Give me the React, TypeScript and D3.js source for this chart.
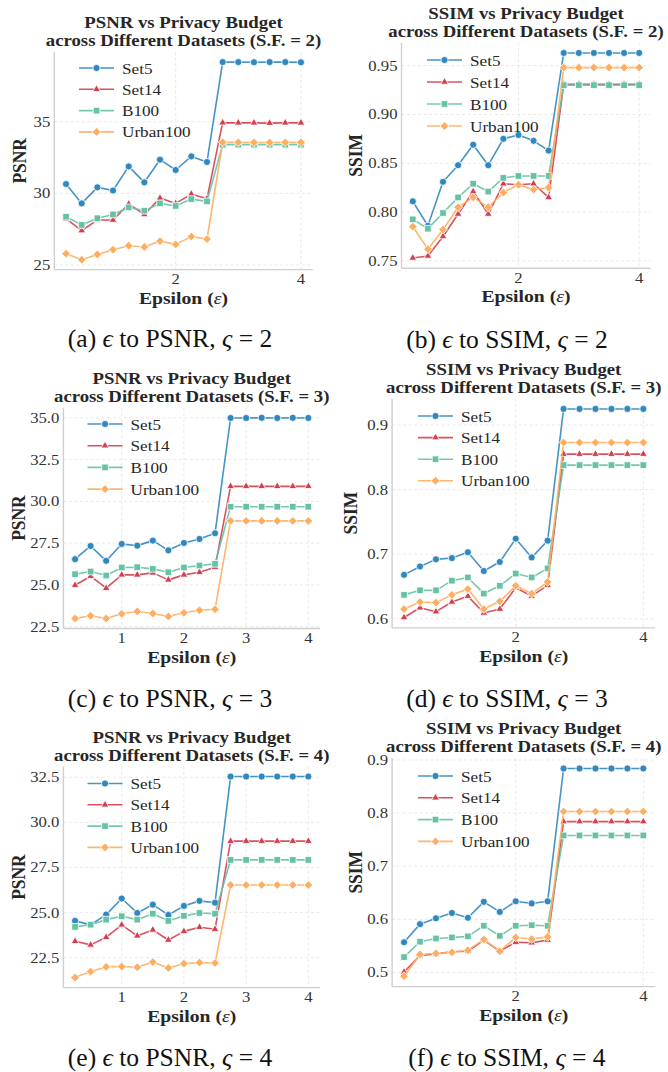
import React from 'react';
import * as d3 from 'd3';

// Privacy budget values shared by every panel
const EPSILON = [0.25, 0.5, 0.75, 1.0, 1.25, 1.5, 1.75, 2.0, 2.25, 2.5, 2.75, 3.0, 3.25, 3.5, 3.75, 4.0];
const DATASETS = ['Set5', 'Set14', 'B100', 'Urban100'];

// Scale factor 2
const PSNR_SF2_SET5 = [30.65, 29.3, 30.42, 30.2, 31.88, 30.77, 32.35, 31.63, 32.58, 32.19, 39.16, 39.16, 39.15, 39.16, 39.16, 39.14];
const PSNR_SF2_SET14 = [28.23, 27.4, 28.14, 28.14, 29.26, 28.53, 29.67, 29.3, 29.95, 29.63, 34.93, 34.92, 34.92, 34.9, 34.92, 34.92];
const PSNR_SF2_B100 = [28.37, 27.8, 28.26, 28.53, 29.02, 28.79, 29.3, 29.12, 29.6, 29.44, 33.4, 33.4, 33.4, 33.4, 33.4, 33.4];
const PSNR_SF2_URBAN = [25.79, 25.37, 25.74, 26.07, 26.35, 26.26, 26.67, 26.44, 26.98, 26.81, 33.56, 33.56, 33.55, 33.55, 33.56, 33.55];

const SSIM_SF2_SET5 = [0.811, 0.786, 0.831, 0.848, 0.869, 0.848, 0.875, 0.879, 0.873, 0.863, 0.963, 0.963, 0.963, 0.963, 0.963, 0.963];
const SSIM_SF2_SET14 = [0.753, 0.755, 0.775, 0.798, 0.821, 0.798, 0.829, 0.828, 0.829, 0.815, 0.931, 0.931, 0.931, 0.931, 0.931, 0.931];
const SSIM_SF2_B100 = [0.7925, 0.783, 0.799, 0.815, 0.829, 0.821, 0.835, 0.837, 0.837, 0.837, 0.93, 0.93, 0.93, 0.93, 0.93, 0.93];
const SSIM_SF2_URBAN = [0.785, 0.762, 0.782, 0.805, 0.815, 0.805, 0.82, 0.828, 0.823, 0.825, 0.948, 0.948, 0.948, 0.948, 0.948, 0.948];

// Scale factor 3
const PSNR_SF3_SET5 = [26.54, 27.33, 26.44, 27.45, 27.35, 27.65, 27.07, 27.51, 27.75, 28.09, 34.99, 34.99, 35.0, 34.99, 35.0, 34.99];
const PSNR_SF3_SET14 = [24.98, 25.52, 24.8, 25.6, 25.6, 25.72, 25.3, 25.6, 25.76, 26.06, 30.9, 30.9, 30.9, 30.9, 30.9, 30.9];
const PSNR_SF3_B100 = [25.64, 25.8, 25.56, 26.04, 26.06, 25.96, 25.76, 26.04, 26.16, 26.26, 29.68, 29.68, 29.68, 29.68, 29.68, 29.68];
const PSNR_SF3_URBAN = [22.99, 23.15, 22.99, 23.27, 23.41, 23.29, 23.11, 23.33, 23.48, 23.54, 28.83, 28.83, 28.83, 28.83, 28.83, 28.83];

const SSIM_SF3_SET5 = [0.668, 0.681, 0.692, 0.694, 0.703, 0.674, 0.688, 0.724, 0.695, 0.721, 0.925, 0.925, 0.925, 0.925, 0.925, 0.925];
const SSIM_SF3_SET14 = [0.602, 0.617, 0.611, 0.626, 0.635, 0.609, 0.615, 0.648, 0.635, 0.652, 0.855, 0.855, 0.855, 0.855, 0.855, 0.855];
const SSIM_SF3_B100 = [0.637, 0.644, 0.644, 0.659, 0.664, 0.639, 0.651, 0.67, 0.664, 0.678, 0.838, 0.838, 0.838, 0.838, 0.838, 0.838];
const SSIM_SF3_URBAN = [0.615, 0.626, 0.625, 0.637, 0.646, 0.615, 0.627, 0.651, 0.639, 0.657, 0.873, 0.873, 0.873, 0.873, 0.873, 0.873];

// Scale factor 4
const PSNR_SF4_SET5 = [24.54, 24.32, 24.89, 25.78, 24.98, 25.44, 24.87, 25.37, 25.65, 25.55, 32.54, 32.54, 32.54, 32.54, 32.54, 32.54];
const PSNR_SF4_SET14 = [23.41, 23.21, 23.63, 24.32, 23.71, 24.04, 23.48, 23.96, 24.19, 24.08, 28.96, 28.96, 28.96, 28.96, 28.96, 28.96];
const PSNR_SF4_B100 = [24.21, 24.33, 24.61, 24.8, 24.61, 24.94, 24.54, 24.82, 24.98, 24.94, 27.92, 27.92, 27.92, 27.92, 27.92, 27.92];
const PSNR_SF4_URBAN = [21.4, 21.73, 21.99, 22.01, 21.97, 22.26, 21.93, 22.17, 22.23, 22.21, 26.53, 26.53, 26.53, 26.53, 26.53, 26.53];

const SSIM_SF4_SET5 = [0.557, 0.591, 0.602, 0.612, 0.603, 0.633, 0.614, 0.634, 0.63, 0.634, 0.884, 0.884, 0.884, 0.884, 0.884, 0.884];
const SSIM_SF4_SET14 = [0.501, 0.532, 0.535, 0.539, 0.54, 0.561, 0.54, 0.557, 0.556, 0.561, 0.784, 0.784, 0.784, 0.784, 0.784, 0.784];
const SSIM_SF4_B100 = [0.529, 0.558, 0.564, 0.566, 0.568, 0.588, 0.569, 0.588, 0.589, 0.588, 0.758, 0.758, 0.758, 0.758, 0.758, 0.758];
const SSIM_SF4_URBAN = [0.493, 0.534, 0.536, 0.538, 0.542, 0.562, 0.54, 0.566, 0.563, 0.567, 0.803, 0.803, 0.803, 0.803, 0.803, 0.803];

// Tick values per panel
const X_TICKS_SPARSE = [2, 4];
const X_TICKS_DENSE = [1, 2, 3, 4];
const Y_TICKS_PSNR2 = [25, 30, 35];
const Y_TICKS_SSIM2 = [0.75, 0.8, 0.85, 0.9, 0.95];
const Y_TICKS_PSNR3 = [22.5, 25, 27.5, 30, 32.5, 35];
const Y_TICKS_SSIM3 = [0.6, 0.7, 0.8, 0.9];
const Y_TICKS_PSNR4 = [22.5, 25, 27.5, 30, 32.5];
const Y_TICKS_SSIM4 = [0.5, 0.6, 0.7, 0.8, 0.9];

const COLORS = ['#3288bd', '#d53e4f', '#66c2a5', '#fdae61'];
const SERIF = '"Liberation Serif", "Times New Roman", Times, serif';
const SX = 1.13; // horizontal stretch of the figure text

type PanelSpec = {
  metric: string;
  sf: number;
  series: number[][];
  xTicks: number[];
  yTicks: number[];
  yFmt: string;
  box: { x0: number; x1: number; y0: number; y1: number };
  legend: { x: number; y: number; dy: number };
  yLabelX: number;
  caption: { x: number; y: number; letter: string; name: string };
};

const PANELS: PanelSpec[] = [
  {
    metric: 'PSNR', sf: 2,
    series: [PSNR_SF2_SET5, PSNR_SF2_SET14, PSNR_SF2_B100, PSNR_SF2_URBAN],
    xTicks: X_TICKS_SPARSE, yTicks: Y_TICKS_PSNR2, yFmt: 'd',
    box: { x0: 54.3, x1: 312.7, y0: 52.2, y1: 269.6 },
    legend: { x: 79, y: 68, dy: 21.3 }, yLabelX: 20,
    caption: { x: 170, y: 346.5, letter: 'a', name: 'PSNR' },
  },
  {
    metric: 'SSIM', sf: 2,
    series: [SSIM_SF2_SET5, SSIM_SF2_SET14, SSIM_SF2_B100, SSIM_SF2_URBAN],
    xTicks: X_TICKS_SPARSE, yTicks: Y_TICKS_SSIM2, yFmt: '.2f',
    box: { x0: 401.5, x1: 650.5, y0: 42.7, y1: 268.2 },
    legend: { x: 427, y: 60, dy: 22 }, yLabelX: 356,
    caption: { x: 507, y: 348, letter: 'b', name: 'SSIM' },
  },
  {
    metric: 'PSNR', sf: 3,
    series: [PSNR_SF3_SET5, PSNR_SF3_SET14, PSNR_SF3_B100, PSNR_SF3_URBAN],
    xTicks: X_TICKS_DENSE, yTicks: Y_TICKS_PSNR3, yFmt: '.1f',
    box: { x0: 63.4, x1: 320, y0: 407.8, y1: 628.5 },
    legend: { x: 87.5, y: 424, dy: 21.7 }, yLabelX: 19,
    caption: { x: 170, y: 707, letter: 'c', name: 'PSNR' },
  },
  {
    metric: 'SSIM', sf: 3,
    series: [SSIM_SF3_SET5, SSIM_SF3_SET14, SSIM_SF3_B100, SSIM_SF3_URBAN],
    xTicks: X_TICKS_SPARSE, yTicks: Y_TICKS_SSIM3, yFmt: '.1f',
    box: { x0: 392.1, x1: 655.3, y0: 398.5, y1: 627.9 },
    legend: { x: 418, y: 416, dy: 21.6 }, yLabelX: 351,
    caption: { x: 507, y: 707, letter: 'd', name: 'SSIM' },
  },
  {
    metric: 'PSNR', sf: 4,
    series: [PSNR_SF4_SET5, PSNR_SF4_SET14, PSNR_SF4_B100, PSNR_SF4_URBAN],
    xTicks: X_TICKS_DENSE, yTicks: Y_TICKS_PSNR4, yFmt: '.1f',
    box: { x0: 63.4, x1: 320, y0: 766.5, y1: 987.6 },
    legend: { x: 87.5, y: 783.5, dy: 21.3 }, yLabelX: 19,
    caption: { x: 170, y: 1066, letter: 'e', name: 'PSNR' },
  },
  {
    metric: 'SSIM', sf: 4,
    series: [SSIM_SF4_SET5, SSIM_SF4_SET14, SSIM_SF4_B100, SSIM_SF4_URBAN],
    xTicks: X_TICKS_SPARSE, yTicks: Y_TICKS_SSIM4, yFmt: '.1f',
    box: { x0: 392.1, x1: 655.3, y0: 758.1, y1: 986.6 },
    legend: { x: 418, y: 776, dy: 21.8 }, yLabelX: 356,
    caption: { x: 507, y: 1066, letter: 'f', name: 'SSIM' },
  },
];

// Marker shapes: circle, triangle, square, diamond (rotated square)
const MARKERS = [
  { path: d3.symbol(d3.symbolCircle, 40)() as string, rot: 0 },
  { path: d3.symbol(d3.symbolTriangle, 26)() as string, rot: 0 },
  { path: d3.symbol(d3.symbolSquare, 44)() as string, rot: 0 },
  { path: d3.symbol(d3.symbolSquare, 38)() as string, rot: 45 },
];

function padded(lo: number, hi: number): [number, number] {
  const m = (hi - lo) * 0.05;
  return [lo - m, hi + m];
}

function Marker({ i, x, y }: { i: number; x: number; y: number }) {
  const m = MARKERS[i];
  return (
    <path
      d={m.path}
      transform={`translate(${x},${y}) rotate(${m.rot})`}
      fill={COLORS[i]}
      stroke="#ffffff"
      strokeWidth={0.9}
      strokeOpacity={0.9}
    />
  );
}

function Panel({ p }: { p: PanelSpec }) {
  const { box } = p;
  const all = p.series.flat();
  const x = d3.scaleLinear().domain(padded(d3.min(EPSILON)!, d3.max(EPSILON)!)).range([box.x0, box.x1]);
  const y = d3.scaleLinear().domain(padded(d3.min(all)!, d3.max(all)!)).range([box.y1, box.y0]);
  const fmt = d3.format(p.yFmt);
  const cx = (box.x0 + box.x1) / 2;
  const cy = (box.y0 + box.y1) / 2;

  return (
    <g>
      {/* grid */}
      <g stroke="#e3e3e3" strokeWidth={0.8} strokeDasharray="3,2.5">
        {p.xTicks.map((t) => (
          <line key={'gx' + t} x1={x(t)} x2={x(t)} y1={box.y0} y2={box.y1} />
        ))}
        {p.yTicks.map((t) => (
          <line key={'gy' + t} x1={box.x0} x2={box.x1} y1={y(t)} y2={y(t)} />
        ))}
      </g>
      {/* spines */}
      <g stroke="#cfcfcf" strokeWidth={1.4} fill="none">
        <line x1={box.x0} x2={box.x0} y1={box.y0} y2={box.y1} />
        <line x1={box.x0} x2={box.x1} y1={box.y1} y2={box.y1} />
      </g>
      {/* tick labels */}
      <g fontFamily={SERIF} fontSize={14.8} fill="#333333">
        {p.xTicks.map((t) => (
          <text key={'tx' + t} transform={`translate(${x(t)},${box.y1 + 14.5}) scale(${SX},1)`} textAnchor="middle">
            {t}
          </text>
        ))}
        {p.yTicks.map((t) => (
          <text key={'ty' + t} transform={`translate(${box.x0 - 4},${y(t) + 5}) scale(${SX},1)`} textAnchor="end">
            {fmt(t)}
          </text>
        ))}
      </g>
      {/* series */}
      {p.series.map((vals, i) => {
        const pts = vals.map((v, k) => [x(EPSILON[k]), y(v)] as [number, number]);
        const line = d3.line()(pts) as string;
        return (
          <g key={'s' + i}>
            <path d={line} fill="none" stroke={COLORS[i]} strokeWidth={1.6} strokeOpacity={0.9} strokeLinejoin="round" />
            {pts.map(([px, py], k) => (
              <Marker key={k} i={i} x={px} y={py} />
            ))}
          </g>
        );
      })}
      {/* legend */}
      <g>
        {DATASETS.map((name, i) => {
          const ly = p.legend.y + i * p.legend.dy;
          return (
            <g key={'l' + i}>
              <line x1={p.legend.x} x2={p.legend.x + 35} y1={ly} y2={ly} stroke={COLORS[i]} strokeWidth={1.6} strokeOpacity={0.9} />
              <Marker i={i} x={p.legend.x + 17.5} y={ly} />
              <text
                transform={`translate(${p.legend.x + 43},${ly + 5.5}) scale(${SX},1)`}
                fontFamily={SERIF}
                fontSize={15.2}
                fill="#262626"
              >
                {name}
              </text>
            </g>
          );
        })}
      </g>
      {/* title */}
      <g fontFamily={SERIF} fontWeight="bold" fontSize={16.6} fill="#262626" textAnchor="middle">
        <text transform={`translate(${cx},${box.y0 - 24}) scale(${SX},1)`}>{`${p.metric} vs Privacy Budget`}</text>
        <text transform={`translate(${cx},${box.y0 - 6}) scale(${SX},1)`}>{`across Different Datasets (S.F. = ${p.sf})`}</text>
      </g>
      {/* axis labels */}
      <text
        transform={`translate(${cx},${box.y1 + 34}) scale(${SX},1)`}
        fontFamily={SERIF}
        fontWeight="bold"
        fontSize={17.4}
        fill="#262626"
        textAnchor="middle"
      >
        Epsilon (<tspan fontStyle="italic" fontWeight="normal">ε</tspan>)
      </text>
      <text
        transform={`translate(${p.yLabelX + 6},${cy}) scale(${SX},1) rotate(-90)`}
        fontFamily={SERIF}
        fontWeight="bold"
        fontSize={17.4}
        fill="#262626"
        textAnchor="middle"
      >
        {p.metric}
      </text>
      {/* caption */}
      <text x={p.caption.x} y={p.caption.y} fontFamily={SERIF} fontSize={25.5} fill="#111111" textAnchor="middle">
        {`(${p.caption.letter}) `}
        <tspan fontStyle="italic">ϵ</tspan>
        {` to ${p.caption.name}, `}
        <tspan fontStyle="italic">ς</tspan>
        {` = ${p.sf}`}
      </text>
    </g>
  );
}

export default function App() {
  return (
    <svg
      width={668}
      height={1072}
      viewBox="0 0 668 1072"
      style={{ position: 'absolute', left: 0, top: 0, background: '#ffffff' }}
    >
      <rect x={0} y={0} width={668} height={1072} fill="#ffffff" />
      {PANELS.map((p) => (
        <Panel key={p.caption.letter} p={p} />
      ))}
    </svg>
  );
}
